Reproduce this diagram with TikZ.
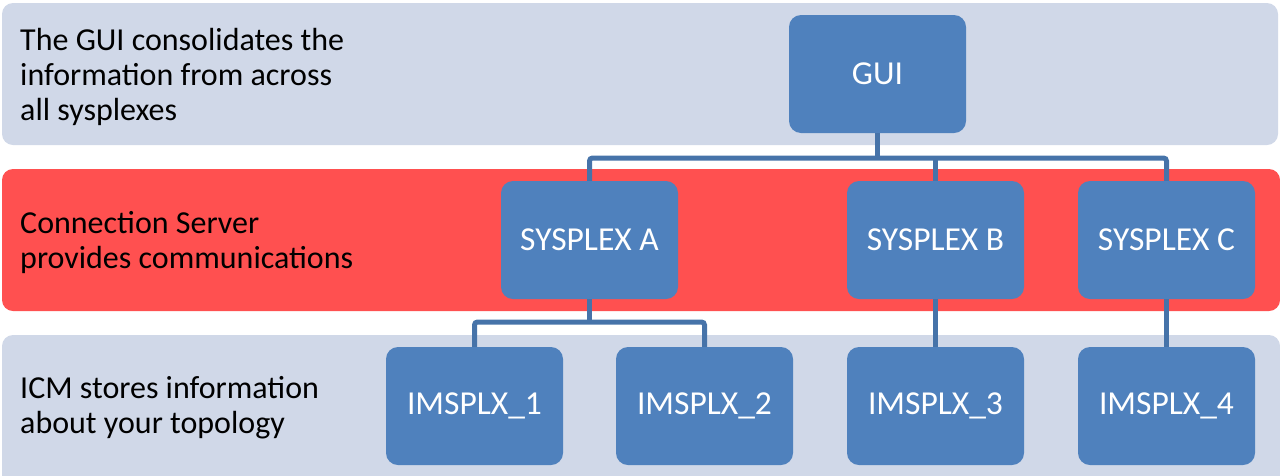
\documentclass[tikz,border=0pt]{standalone}
\usepackage{fontspec}
\setmainfont{Carlito}
\definecolor{bandgray}{HTML}{D0D8E8}
\definecolor{bandred}{HTML}{FF5050}
\definecolor{boxblue}{HTML}{4F81BD}
\definecolor{linkblue}{HTML}{4673A9}
\tikzset{
  band/.style={fill=#1, draw=none, rounded corners=11pt},
  sysbox/.style={fill=boxblue, draw=none, rounded corners=12pt,
    minimum width=177pt, minimum height=118pt, inner sep=0pt,
    text=white, font=\fontsize{33.5}{38}\selectfont},
  caption/.style={anchor=west, align=left, inner sep=0pt,
    font=\fontsize{32}{35}\selectfont},
  link/.style={draw=linkblue, line width=5pt, rounded corners=3pt}
}
\begin{document}
\begin{tikzpicture}[x=1pt,y=-1pt]
\useasboundingbox (0,0) rectangle (1280,475);

% layer bands
\path[band=bandgray] (2,3) rectangle (1278,145);
\path[band=bandred]  (2,169) rectangle (1280,311);
\path[band=bandgray] (2,335) rectangle (1280,486);

% layer descriptions
\node[caption] (capgui) at (20,77) {The GUI consolidates the\\information from across\\all sysplexes};
\node[caption] (capcs) at (20,242.5) {Connection Server\\provides communications};
\node[caption] (capicm) at (20,408) {ICM stores information\\about your topology};

% tree nodes
\node[sysbox] (gui) at (877.5,74) {GUI};
\node[sysbox] (sa) at (589.5,240) {SYSPLEX A};
\node[sysbox] (sb) at (935.5,240) {SYSPLEX B};
\node[sysbox] (sc) at (1166.5,240) {SYSPLEX C};
\node[sysbox] (i1) at (474.5,406) {IMSPLX\_1};
\node[sysbox] (i2) at (704.5,406) {IMSPLX\_2};
\node[sysbox] (i3) at (935.5,406) {IMSPLX\_3};
\node[sysbox] (i4) at (1166.5,406) {IMSPLX\_4};

% connectors
\coordinate (bus) at (877.5,158);
\coordinate (busa) at (589.5,322);
\draw[link] (gui.south) -- (gui.south |- bus);
\draw[link] (sa.north) |- (bus) -| (sc.north);
\draw[link] (sb.north) -- (sb.north |- bus);
\draw[link] (sa.south) -- (busa);
\draw[link] (i1.north) |- (busa) -| (i2.north);
\draw[link] (sb.south) -- (i3.north);
\draw[link] (sc.south) -- (i4.north);
\end{tikzpicture}
\end{document}
